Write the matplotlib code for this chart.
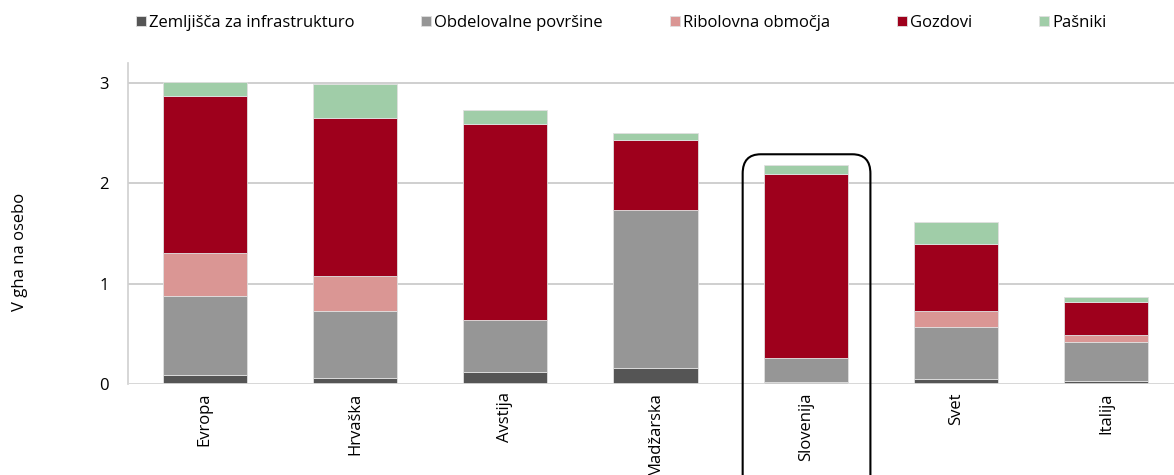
import numpy as np
import matplotlib.pyplot as plt
from matplotlib.patches import FancyBboxPatch
from matplotlib.transforms import blended_transform_factory

plt.rcParams['font.family'] = ['Open Sans', 'DejaVu Sans']

# Podatki (gha na osebo)
drzave = ['Evropa', 'Hrvaška', 'Avstija', 'Madžarska', 'Slovenija', 'Svet', 'Italija']
infrastruktura = [0.09, 0.06, 0.12, 0.16, 0.02, 0.05, 0.03]
obdelovalne = [0.79, 0.67, 0.52, 1.57, 0.24, 0.52, 0.39]
ribolovna = [0.43, 0.35, 0.00, 0.00, 0.00, 0.16, 0.07]
gozdovi = [1.56, 1.57, 1.95, 0.70, 1.83, 0.67, 0.33]
pasniki = [0.14, 0.34, 0.14, 0.07, 0.09, 0.21, 0.05]

serije = [
    ('Zemljišča za infrastrukturo', infrastruktura, '#555555'),
    ('Obdelovalne površine', obdelovalne, '#969696'),
    ('Ribolovna območja', ribolovna, '#da9694'),
    ('Gozdovi', gozdovi, '#9e001c'),
    ('Pašniki', pasniki, '#a0cda8'),
]

fig = plt.figure(figsize=(11.74, 4.75), dpi=100)
ax = fig.add_axes([0.109, 0.1916, 0.891, 0.6758])

x = np.arange(len(drzave))
dno = np.zeros(len(drzave))
for ime, vrednosti, barva in serije:
    v = np.array(vrednosti)
    ax.bar(x, v, bottom=dno, width=0.56, color=barva, edgecolor='#e0e0e0',
           linewidth=0.6, label=ime, zorder=3)
    dno += v

ax.set_ylim(0, 3.2)
ax.set_xlim(-0.51, 6.45)
ax.set_yticks([0, 1, 2, 3])
ax.yaxis.grid(True, color='#cfcfcf', linewidth=1.4, zorder=0)
ax.axhline(0, color='#d9d9d9', linewidth=2, zorder=4)
for s in ['top', 'right', 'bottom']:
    ax.spines[s].set_visible(False)
ax.spines['left'].set_color('#cfcfcf')
ax.spines['left'].set_linewidth(1.2)
ax.tick_params(axis='both', length=0, labelsize=12)
ax.tick_params(axis='y', pad=14)
ax.tick_params(axis='x', pad=6)
ax.set_xticks(x)
ax.set_xticklabels(drzave, rotation=90, va='top')
ax.set_ylabel('V gha na osebo', fontsize=12)
ax.yaxis.set_label_coords(-0.096, 0.41)

# Okvir okoli Slovenije
tr = blended_transform_factory(ax.transData, ax.transData)
okvir = FancyBboxPatch((3.58, -1.2), 0.85, 3.49, boxstyle='round,pad=0,rounding_size=0.12',
                       mutation_aspect=1.6, fill=False, edgecolor='black', linewidth=1.5,
                       transform=tr, clip_on=False, zorder=5)
ax.add_patch(okvir)

fig.legend(loc='upper center', bbox_to_anchor=(0.529, 1.0), ncol=5, frameon=False,
           fontsize=12, handlelength=0.6, handleheight=0.6, handletextpad=0.2,
           columnspacing=4.0)

fig.savefig('out.png', dpi=100)
